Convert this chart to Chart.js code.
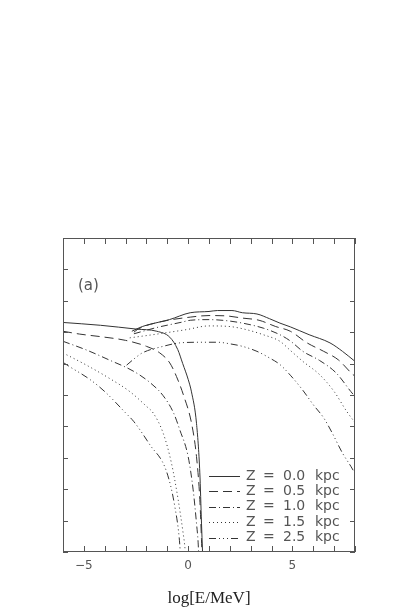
<!DOCTYPE html>
<html>
<head>
<meta charset="utf-8">
<script src="https://cdn.jsdelivr.net/npm/chart.js@4.4.0/dist/chart.umd.min.js"></script>
<style>
  html, body { margin: 0; padding: 0; background: #fff; }
  #wrap { width: 418px; height: 615px; }
</style>
</head>
<body>
<div id="wrap"><canvas id="myLineChart"></canvas></div>
<script>
    // legend labels, one per curve
    const zValues = ['0.0', '0.5', '1.0', '1.5', '2.5'];

    // Z = 0.0 kpc  (solid)
    const lowX0  = [-6, -4.2, -2.5, -1.5, -0.88, -0.5, -0.26, 0.0, 0.16, 0.4, 0.56, 0.64, 0.69];
    const lowY0  = [7.31, 7.22, 7.10, 7.03, 6.84, 6.45, 6.0, 5.5, 5.1, 4.1, 2.52, 0.92, 0];
    const highX0 = [-2.7, -2.2, -1.4, -0.9, 0.1, 1.0, 1.4, 2.1, 2.6, 3.3, 3.9, 4.4, 4.9, 5.8, 6.8, 7.4, 8.0];
    const highY0 = [7.03, 7.18, 7.32, 7.40, 7.62, 7.66, 7.69, 7.69, 7.62, 7.58, 7.43, 7.29, 7.17, 6.92, 6.66, 6.39, 6.07];

    // Z = 0.5 kpc  (dashed)
    const lowX1  = [-6, -5.2, -4.1, -3.0, -2.0, -1.36, -0.88, -0.56, -0.2, 0.16, 0.40, 0.56, 0.64, 0.66];
    const lowY1  = [7.03, 6.94, 6.85, 6.74, 6.55, 6.34, 6.02, 5.59, 4.95, 4.11, 3.04, 1.67, 0.39, 0];
    const highX1 = [-2.6, -2.4, -1.4, 0.1, 1.0, 1.8, 2.6, 3.4, 4.2, 4.9, 5.7, 6.5, 7.2, 7.9, 8.0];
    const highY1 = [7.0, 7.10, 7.32, 7.48, 7.53, 7.52, 7.45, 7.38, 7.18, 7.03, 6.66, 6.39, 6.12, 5.65, 5.6];

    // Z = 1.0 kpc  (dash-dot)
    const lowX2  = [-6, -4.9, -3.8, -2.6, -1.8, -1.2, -0.7, -0.4, 0.0, 0.24, 0.4, 0.48, 0.5];
    const lowY2  = [6.71, 6.44, 6.12, 5.75, 5.38, 4.98, 4.43, 3.89, 3.04, 1.98, 0.92, 0.29, 0];
    const highX2 = [-2.6, -1.5, -0.3, 0.1, 1.0, 1.8, 2.6, 3.6, 4.4, 4.9, 5.5, 6.3, 7.1, 7.8, 8.0];
    const highY2 = [6.95, 7.15, 7.32, 7.38, 7.40, 7.37, 7.29, 7.13, 6.92, 6.72, 6.39, 6.10, 5.70, 5.11, 4.95];

    // Z = 1.5 kpc  (dotted)
    const lowX3  = [-6, -4.9, -3.8, -2.8, -2.0, -1.68, -1.2, -0.8, -0.48, -0.24, -0.16, -0.14];
    const lowY3  = [6.34, 5.96, 5.54, 5.11, 4.64, 4.43, 3.79, 2.83, 1.67, 0.6, 0.18, 0];
    const highX3 = [-2.8, -1.7, -0.1, 1.0, 2.0, 2.8, 3.6, 4.4, 4.9, 5.5, 6.3, 7.0, 7.6, 8.0];
    const highY3 = [6.82, 6.92, 7.08, 7.20, 7.18, 7.08, 6.92, 6.71, 6.42, 6.07, 5.65, 5.11, 4.48, 4.12];

    // Z = 2.5 kpc  (dash-dot-dot-dot)
    const lowX4  = [-6, -5.7, -4.7, -4.0, -3.0, -2.6, -1.84, -1.04, -0.64, -0.4, -0.38];
    const lowY4  = [6.04, 5.91, 5.49, 5.11, 4.43, 4.15, 3.42, 2.57, 1.45, 0.23, 0];
    const highX4 = [-2.95, -2.5, -2.2, -1.2, -0.4, 0.6, 1.4, 2.0, 2.6, 3.3, 3.9, 4.4, 4.9, 5.5, 6.0, 6.5, 6.9, 7.4, 7.8, 8.0];
    const highY4 = [5.95, 6.2, 6.34, 6.55, 6.66, 6.68, 6.68, 6.63, 6.55, 6.39, 6.18, 5.97, 5.63, 5.15, 4.69, 4.27, 3.80, 3.15, 2.73, 2.5];

    const lowXs  = [lowX0, lowX1, lowX2, lowX3, lowX4];
    const lowYs  = [lowY0, lowY1, lowY2, lowY3, lowY4];
    const highXs = [highX0, highX1, highX2, highX3, highX4];
    const highYs = [highY0, highY1, highY2, highY3, highY4];

    const dashes = [[], [9, 5], [7, 3, 1, 3], [1, 3], [7, 3, 1, 3, 1, 3, 1, 3]];
    const lineColor = '#333';
    const textColor = '#555';
    const sans = '"DejaVu Sans", sans-serif';

    // join low-energy branch and high-energy hump with a gap
    function branchPoints(i) {
      const pts = lowXs[i].map((x, k) => ({ x: x, y: lowYs[i][k] }));
      pts.push({ x: lowXs[i][lowXs[i].length - 1], y: null });
      highXs[i].forEach((x, k) => pts.push({ x: x, y: highYs[i][k] }));
      return pts;
    }

    const data = {
      datasets: zValues.map((z, i) => ({
        label: 'Z = ' + z + ' kpc',
        data: branchPoints(i),
        borderColor: lineColor,
        borderWidth: 1,
        borderDash: dashes[i],
        pointRadius: 0,
        cubicInterpolationMode: 'monotone',
        spanGaps: false,
        fill: false
      }))
    };

    // frame, inward ticks, "(a)" and the legend
    const framePlugin = {
      id: 'frame',
      afterDraw(chart) {
        const ctx = chart.ctx;
        const a = chart.chartArea;
        const xs = chart.scales.x, ys = chart.scales.y;
        ctx.save();
        ctx.strokeStyle = '#555';
        ctx.lineWidth = 1;
        ctx.setLineDash([]);
        ctx.strokeRect(a.left + 0.5, a.top + 0.5, a.right - a.left - 1, a.bottom - a.top - 1);
        ctx.beginPath();
        for (let v = xs.min; v <= xs.max; v++) {
          const px = Math.round(xs.getPixelForValue(v)) + 0.5;
          ctx.moveTo(px, a.bottom); ctx.lineTo(px, a.bottom - 6);
          ctx.moveTo(px, a.top); ctx.lineTo(px, a.top + 6);
        }
        for (let v = ys.min; v <= ys.max; v++) {
          const py = Math.round(ys.getPixelForValue(v)) + 0.5;
          ctx.moveTo(a.left, py); ctx.lineTo(a.left + 5, py);
          ctx.moveTo(a.right, py); ctx.lineTo(a.right - 5, py);
        }
        ctx.stroke();

        ctx.fillStyle = textColor;
        ctx.font = '15px ' + sans;
        ctx.textBaseline = 'middle';
        ctx.fillText('(a)', a.left + 15, a.top + 48);

        // legend
        ctx.font = '14px ' + sans;
        const lx = a.left + 146, ly = a.top + 238;
        chart.data.datasets.forEach((ds, i) => {
          const y = ly + i * 15.4;
          ctx.strokeStyle = lineColor;
          ctx.setLineDash(ds.borderDash);
          ctx.beginPath();
          ctx.moveTo(lx, Math.round(y) + 0.5);
          ctx.lineTo(lx + 31, Math.round(y) + 0.5);
          ctx.stroke();
          ctx.fillStyle = textColor;
          const parts = ds.label.split(' ');
          const offs = [37, 54, 74, 106];
          parts.forEach((p, k) => ctx.fillText(p, lx + offs[k], y));
        });
        ctx.restore();
      }
    };

    const config = {
      type: 'line',
      data: data,
      options: {
        responsive: true,
        maintainAspectRatio: false,
        animation: false,
        layout: { padding: { left: 63, right: 63, top: 238, bottom: 0 } },
        plugins: { legend: { display: false }, tooltip: { enabled: false } },
        scales: {
          x: {
            type: 'linear',
            min: -6,
            max: 8,
            afterFit(scale) { scale.height = 63; },
            grid: { display: false, drawTicks: false },
            border: { display: false },
            ticks: {
              stepSize: 1,
              autoSkip: false,
              maxRotation: 0,
              padding: 7,
              color: textColor,
              font: { family: sans, size: 12 },
              callback: v => (v % 5 === 0 ? String(v).replace('-', '\u2212') : '')
            },
            title: {
              display: true,
              text: 'log[E/MeV]',
              color: '#222',
              font: { family: '"Liberation Serif", serif', size: 17 },
              padding: { top: 0, bottom: 6 }
            }
          },
          y: {
            type: 'linear',
            min: 0,
            max: 10,
            display: false
          }
        }
      },
      plugins: [framePlugin]
    };

    const myChart = new Chart(document.getElementById('myLineChart'), config);
</script>
</body>
</html>
